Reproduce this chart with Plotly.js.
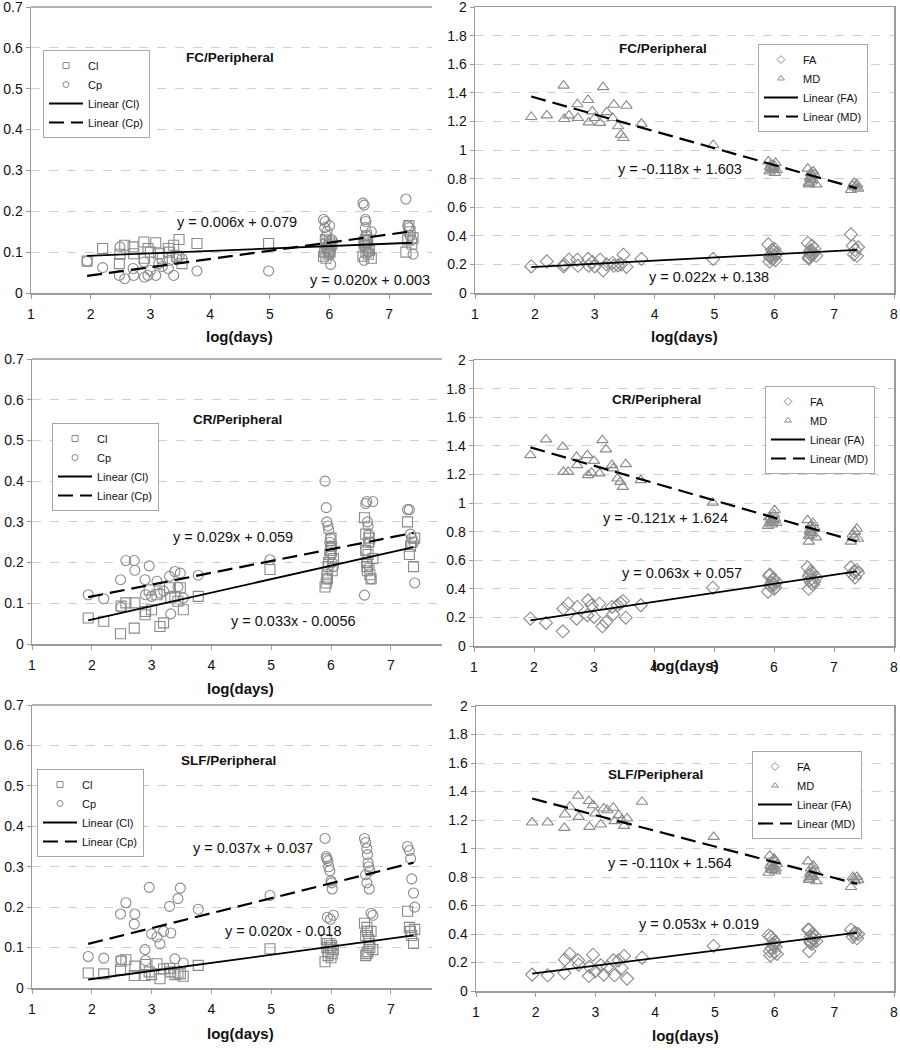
<!DOCTYPE html>
<html>
<head>
<meta charset="utf-8">
<script src="https://cdn.plot.ly/plotly-3.0.1.min.js"></script>
<style>html,body{margin:0;padding:0;background:#fff;}#chart{width:900px;height:1050px;}</style>
</head>
<body>
<div id="chart"></div>
<script>
// shared x values (log(days)) for all series
const logDays = [1.94,2.2,2.48,2.49,2.57,2.71,2.72,2.89,2.9,2.96,3.0,3.09,3.14,3.2,3.3,3.32,3.39,3.44,3.48,3.53,3.78,4.98,
  5.9,5.92,5.93,5.95,5.96,5.98,6.0,6.01,6.02,6.04,5.94,5.99,
  6.56,6.58,6.6,6.61,6.62,6.63,6.65,6.58,6.6,6.64,6.67,6.7,
  7.28,7.31,7.33,7.35,7.38,7.4];

// FC/Peripheral
const fcCl = [0.078,0.109,0.072,0.095,0.117,0.113,0.096,0.125,0.085,0.109,0.1,0.123,0.096,0.085,0.109,0.1,0.117,0.09,0.131,0.072,0.121,0.121,
  0.09,0.1,0.13,0.12,0.11,0.095,0.125,0.1,0.115,0.12,0.085,0.105,
  0.09,0.12,0.13,0.1,0.14,0.11,0.095,0.125,0.115,0.13,0.105,0.085,
  0.1,0.13,0.165,0.15,0.12,0.135];
const fcCp = [0.078,0.062,0.043,0.113,0.035,0.06,0.043,0.076,0.039,0.043,0.055,0.043,0.072,0.065,0.06,0.08,0.043,0.084,0.09,0.084,0.054,0.054,
  0.18,0.16,0.175,0.14,0.15,0.12,0.165,0.1,0.07,0.13,0.11,0.095,
  0.22,0.215,0.18,0.175,0.14,0.12,0.1,0.08,0.16,0.13,0.11,0.15,
  0.23,0.165,0.16,0.14,0.13,0.095];
const fcFA = [0.186,0.221,0.186,0.2,0.233,0.233,0.19,0.238,0.19,0.216,0.186,0.233,0.158,0.2,0.21,0.19,0.193,0.2,0.268,0.182,0.238,0.238,
  0.34,0.22,0.25,0.27,0.3,0.24,0.31,0.26,0.23,0.28,0.25,0.29,
  0.35,0.24,0.27,0.3,0.26,0.33,0.28,0.25,0.29,0.27,0.31,0.26,
  0.41,0.33,0.27,0.3,0.26,0.32];
const fcMD = [1.231,1.242,1.45,1.217,1.242,1.32,1.224,1.35,1.193,1.27,1.224,1.19,1.44,1.265,1.224,1.317,1.166,1.107,1.084,1.31,1.184,1.035,
  0.92,0.85,0.88,0.9,0.86,0.87,0.89,0.84,0.91,0.86,0.88,0.87,
  0.87,0.76,0.8,0.84,0.78,0.82,0.85,0.77,0.81,0.79,0.83,0.76,
  0.72,0.75,0.77,0.74,0.76,0.73];

// CR/Peripheral
const crCl = [0.064,0.056,0.025,0.093,0.101,0.039,0.101,0.072,0.08,0.133,0.084,0.121,0.043,0.052,0.138,0.113,0.117,0.105,0.138,0.084,0.117,0.183,
  0.14,0.15,0.17,0.19,0.2,0.22,0.26,0.24,0.18,0.21,0.16,0.23,
  0.31,0.27,0.2,0.18,0.22,0.25,0.17,0.23,0.19,0.26,0.16,0.21,
  0.3,0.22,0.24,0.25,0.19,0.26];
const crCp = [0.121,0.111,0.158,0.09,0.205,0.205,0.181,0.158,0.121,0.192,0.117,0.154,0.125,0.13,0.166,0.074,0.178,0.14,0.174,0.113,0.169,0.207,
  0.4,0.335,0.3,0.29,0.28,0.25,0.24,0.22,0.2,0.19,0.16,0.26,
  0.12,0.345,0.35,0.3,0.29,0.27,0.25,0.23,0.2,0.19,0.16,0.35,
  0.33,0.33,0.27,0.26,0.25,0.15];
const crFA = [0.191,0.161,0.103,0.261,0.296,0.191,0.273,0.215,0.32,0.285,0.203,0.296,0.138,0.168,0.273,0.222,0.285,0.3,0.315,0.198,0.285,0.408,
  0.38,0.49,0.5,0.42,0.44,0.46,0.4,0.43,0.41,0.45,0.42,0.47,
  0.55,0.4,0.5,0.52,0.44,0.47,0.43,0.49,0.46,0.51,0.45,0.48,
  0.55,0.5,0.52,0.48,0.53,0.51];
const crMD = [1.335,1.445,1.393,1.218,1.218,1.323,1.265,1.335,1.195,1.211,1.295,1.207,1.44,1.375,1.265,1.242,1.171,1.148,1.113,1.272,1.16,1.003,
  0.84,0.9,0.86,0.88,0.85,0.87,0.92,0.95,0.89,0.86,0.9,0.88,
  0.88,0.73,0.8,0.84,0.78,0.82,0.86,0.77,0.81,0.79,0.83,0.76,
  0.73,0.78,0.76,0.8,0.82,0.75];

// SLF/Peripheral
const slfCl = [0.037,0.035,0.045,0.066,0.07,0.031,0.054,0.031,0.058,0.04,0.033,0.06,0.023,0.047,0.049,0.04,0.033,0.037,0.035,0.029,0.056,0.097,
  0.065,0.12,0.1,0.08,0.09,0.11,0.075,0.105,0.085,0.095,0.11,0.1,
  0.16,0.08,0.15,0.14,0.09,0.12,0.1,0.13,0.085,0.11,0.14,0.095,
  0.19,0.15,0.14,0.13,0.11,0.145];
const slfCp = [0.078,0.074,0.183,0.07,0.211,0.158,0.183,0.095,0.068,0.249,0.134,0.126,0.109,0.14,0.202,0.136,0.072,0.221,0.247,0.062,0.195,0.229,
  0.37,0.325,0.32,0.315,0.3,0.29,0.265,0.26,0.245,0.18,0.175,0.17,
  0.37,0.36,0.345,0.33,0.31,0.3,0.29,0.28,0.26,0.245,0.185,0.18,
  0.35,0.34,0.32,0.27,0.235,0.2];
const slfFA = [0.115,0.11,0.126,0.22,0.26,0.215,0.185,0.105,0.17,0.255,0.138,0.18,0.115,0.168,0.215,0.11,0.215,0.16,0.246,0.087,0.234,0.316,
  0.39,0.28,0.25,0.3,0.33,0.36,0.27,0.34,0.31,0.26,0.38,0.32,
  0.43,0.28,0.35,0.38,0.33,0.4,0.36,0.43,0.34,0.37,0.39,0.35,
  0.43,0.38,0.4,0.41,0.37,0.4];
const slfMD = [1.183,1.183,1.145,1.239,1.293,1.37,1.222,1.333,1.152,1.304,1.246,1.169,1.281,1.269,1.286,1.192,1.234,1.2,1.159,1.211,1.328,1.082,
  0.83,0.95,0.88,0.9,0.85,0.87,0.92,0.84,0.86,0.89,0.86,0.93,
  0.91,0.78,0.82,0.86,0.8,0.84,0.88,0.79,0.83,0.81,0.85,0.77,
  0.73,0.8,0.79,0.77,0.8,0.78];

// trend line end points
const trendX = [1.94, 7.38];
const fcClFit = [0.091, 0.123], fcCpFit = [0.042, 0.151];
const fcFAFit = [0.181, 0.301], fcMDFit = [1.374, 0.732];
const crClFit = [0.058, 0.238], crCpFit = [0.115, 0.273];
const crFAFit = [0.179, 0.522], crMDFit = [1.389, 0.731];
const slfClFit = [0.021, 0.130], slfCpFit = [0.109, 0.310];
const slfFAFit = [0.122, 0.410], slfMDFit = [1.351, 0.752];

const regionTitles = ['FC/Peripheral','FC/Peripheral','CR/Peripheral','CR/Peripheral','SLF/Peripheral','SLF/Peripheral'];
const equations = [
  ['y = 0.006x + 0.079','y = 0.020x + 0.003'],
  ['y = -0.118x + 1.603','y = 0.022x + 0.138'],
  ['y = 0.029x + 0.059','y = 0.033x - 0.0056'],
  ['y = -0.121x + 1.624','y = 0.063x + 0.057'],
  ['y = 0.037x + 0.037','y = 0.020x - 0.018'],
  ['y = -0.110x + 1.564','y = 0.053x + 0.019']
];
const xTitle = 'log(days)';

// ---- layout helpers (pixel positions -> paper fractions)
const W = 900, H = 1050;
const px = v => v / W, py = v => 1 - v / H;
const GRAY = '#8a8a8a';
const FONT = 'Liberation Sans, Arial, sans-serif';

const panels = [
  {s:[fcCl,fcCp], f:[fcClFit,fcCpFit], n:['Cl','Cp'], sym:['square-open','circle-open'], left:true,
   dom:[31,432,7,293], xr:[1,7.717], yr:[0,0.7001], dt:0.1, leg:[43,50],
   title:[230,58], eq:[[237,222],[370,280]], xt:[239,337]},
  {s:[fcFA,fcMD], f:[fcFAFit,fcMDFit], n:['FA','MD'], sym:['diamond-open','triangle-up-open'], left:false,
   dom:[475,894,7,293], xr:[1,8], yr:[0,2.0002], dt:0.2, leg:[758,44],
   title:[663,49], eq:[[680,169],[709,277]], xt:[684,337]},
  {s:[crCl,crCp], f:[crClFit,crCpFit], n:['Cl','Cp'], sym:['square-open','circle-open'], left:true,
   dom:[32,442,359,644], xr:[1,7.856], yr:[0,0.7001], dt:0.1, leg:[52,423],
   title:[238,419], eq:[[233,537],[293,621]], xt:[240,688]},
  {s:[crFA,crMD], f:[crFAFit,crMDFit], n:['FA','MD'], sym:['diamond-open','triangle-up-open'], left:false,
   dom:[474,894,360,646], xr:[1,8], yr:[0,2.0002], dt:0.2, leg:[765,386],
   title:[656,399], eq:[[665,518],[682,573]], xt:[685,666]},
  {s:[slfCl,slfCp], f:[slfClFit,slfCpFit], n:['Cl','Cp'], sym:['square-open','circle-open'], left:true,
   dom:[32,432,705,988], xr:[1,7.689], yr:[0,0.7001], dt:0.1, leg:[37,769],
   title:[229,760], eq:[[253,848],[283,931]], xt:[240,1033]},
  {s:[slfFA,slfMD], f:[slfFAFit,slfMDFit], n:['FA','MD'], sym:['diamond-open','triangle-up-open'], left:false,
   dom:[476,894,706,991], xr:[1,8], yr:[0,2.0002], dt:0.2, leg:[752,751],
   title:[655,774], eq:[[670,863],[699,924]], xt:[685,1035]}
];

const data = [];
const layout = {
  width: W, height: H,
  margin: {l:0, r:0, t:0, b:0},
  paper_bgcolor: '#fff', plot_bgcolor: '#fff',
  showlegend: true,
  font: {family: FONT, size: 13, color: '#111'},
  annotations: [], shapes: []
};

panels.forEach((p, i) => {
  const k = i + 1;
  const xa = k === 1 ? 'x' : 'x' + k;
  const ya = k === 1 ? 'y' : 'y' + k;
  const legName = k === 1 ? 'legend' : 'legend' + k;
  // scatter markers
  p.s.forEach((ys, j) => {
    data.push({type:'scatter', mode:'markers', x: logDays, y: ys, xaxis: xa, yaxis: ya,
      marker:{symbol:p.sym[j], size:10, color:GRAY, line:{color:GRAY, width:1.1}},
      showlegend:false, hoverinfo:'x+y'});
  });
  // legend-only entries (small symbols as in original legend)
  p.s.forEach((ys, j) => {
    data.push({type:'scatter', mode:'markers', x:[null], y:[null], xaxis: xa, yaxis: ya,
      name: p.n[j], legend: legName,
      marker:{symbol:p.sym[j], size:6, color:GRAY, line:{color:GRAY, width:1}}});
  });
  // trend lines
  p.f.forEach((fy, j) => {
    data.push({type:'scatter', mode:'lines', x: trendX, y: fy, xaxis: xa, yaxis: ya,
      name: 'Linear (' + p.n[j] + ')', legend: legName,
      line:{color:'#000', width: j === 0 ? 1.8 : 2.2, dash: j === 0 ? 'solid' : '15px,7px'}});
  });

  const [x0, x1, yTop, yBot] = p.dom;
  layout['xaxis' + (k === 1 ? '' : k)] = {
    domain:[px(x0), px(x1)], range:p.xr, anchor: ya, dtick:1, tick0:1,
    showgrid:false, zeroline:false, showline:true, linecolor:'#9a9a9a', linewidth:1.5,
    mirror: p.left ? false : true,
    ticks:'outside', ticklen:4, tickcolor:'#9a9a9a', ticklabelstandoff:4,
    ticklabeloverflow:'allow',
    tickfont:{family:FONT, size:14, color:'#111'}, fixedrange:true
  };
  layout['yaxis' + (k === 1 ? '' : k)] = {
    domain:[py(yBot), py(yTop)], range:p.yr, anchor: xa, dtick:p.dt, tick0:0,
    showgrid:true, gridcolor:'#cfcfcf', griddash:'dash', gridwidth:1,
    zeroline:false, showline:true, linecolor:'#9a9a9a', linewidth:1.5,
    mirror: p.left ? false : true,
    ticks:'outside', ticklen:4, tickcolor:'#9a9a9a',
    ticklabeloverflow:'allow',
    tickfont:{family:FONT, size:14, color:'#111'}, fixedrange:true
  };
  if (p.left) {
    layout.shapes.push({type:'line', xref: xa + ' domain', yref: ya + ' domain',
      x0:0, x1:1, y0:1, y1:1, line:{color:'#9a9a9a', width:1.5}});
  }
  layout[legName] = {
    x: px(p.leg[0]), y: py(p.leg[1]), xanchor:'left', yanchor:'top',
    bgcolor:'#fff', bordercolor:'#a8a8a8', borderwidth:1,
    font:{family:FONT, size:11, color:'#111'}, tracegroupgap:0, itemwidth:34
  };
  layout.annotations.push({text:'<b>' + regionTitles[i] + '</b>', xref:'paper', yref:'paper',
    x:px(p.title[0]), y:py(p.title[1]), xanchor:'center', yanchor:'middle', showarrow:false,
    font:{family:FONT, size:13.5, color:'#111'}});
  equations[i].forEach((e, j) => {
    layout.annotations.push({text:e, xref:'paper', yref:'paper',
      x:px(p.eq[j][0]), y:py(p.eq[j][1]), xanchor:'center', yanchor:'middle', showarrow:false,
      font:{family:FONT, size:14.5, color:'#111'}});
  });
  layout.annotations.push({text:'<b>' + xTitle + '</b>', xref:'paper', yref:'paper',
    x:px(p.xt[0]), y:py(p.xt[1]), xanchor:'center', yanchor:'middle', showarrow:false,
    font:{family:FONT, size:15, color:'#111'}});
});

Plotly.newPlot('chart', data, layout, {displayModeBar:false, staticPlot:true});
</script>
</body>
</html>
